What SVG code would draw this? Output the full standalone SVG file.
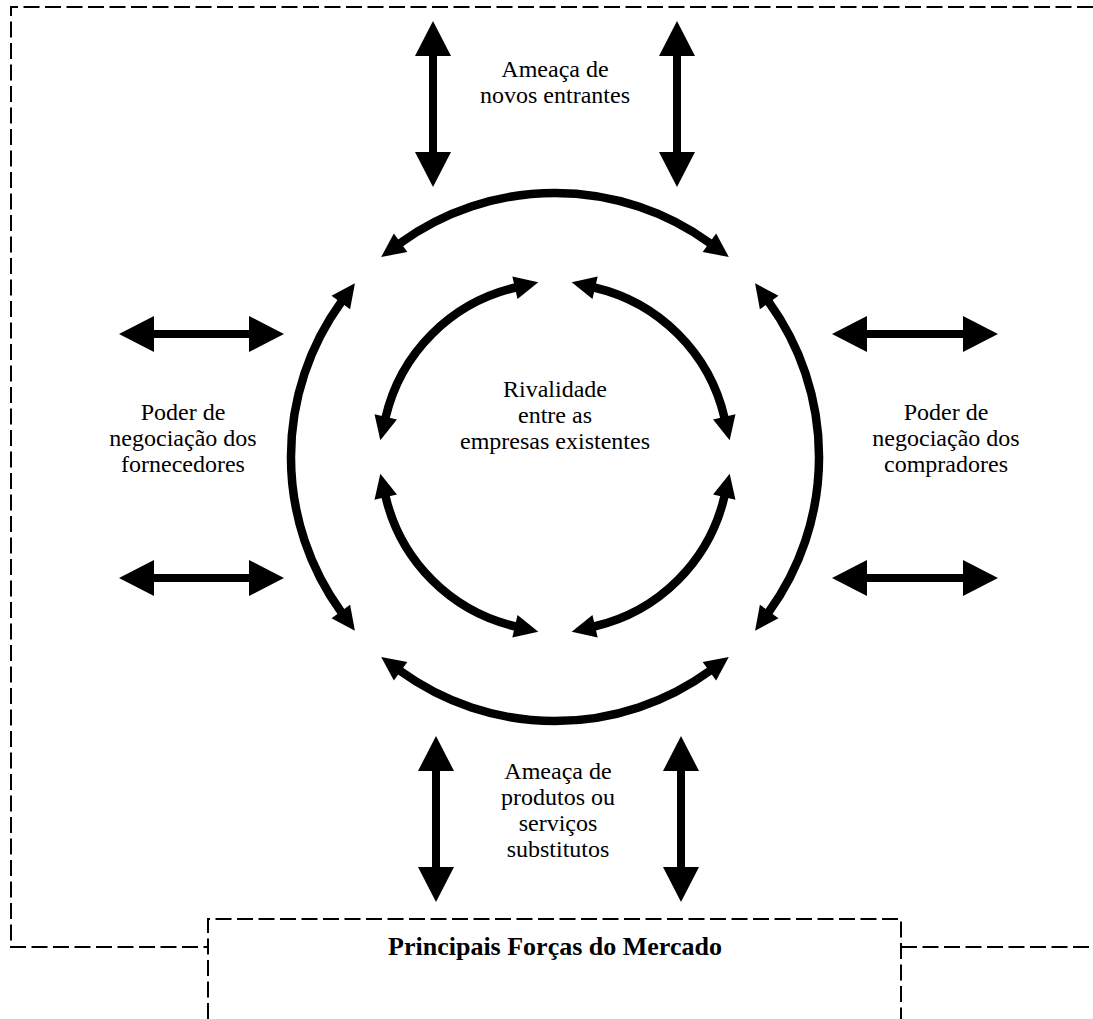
<svg xmlns="http://www.w3.org/2000/svg" width="1093" height="1019" viewBox="0 0 1093 1019">
  <style>
    .lbl { font-family: "Liberation Serif", "Times New Roman", serif; font-size: 24px; fill: #000; text-anchor: middle; }
    .title { font-family: "Liberation Serif", "Times New Roman", serif; font-size: 26px; font-weight: bold; fill: #000; text-anchor: middle; }
    .dash { fill: none; stroke: #000; stroke-width: 2; stroke-dasharray: 16 5.5; }
    .arc { fill: none; stroke: #000; stroke-width: 8.5; marker-start: url(#headSmall); marker-end: url(#headSmall); }
    .bar { fill: none; stroke: #000; stroke-width: 8; marker-start: url(#headBig); marker-end: url(#headBig); }
  </style>
  <defs>
    <!-- curved-arrow head: tip beyond the arc end, along its tangent -->
    <marker id="headSmall" markerUnits="userSpaceOnUse" markerWidth="25" markerHeight="23" refX="1" refY="11.5" orient="auto-start-reverse" overflow="visible">
      <path d="M0,0 L24,11.5 L0,23 z" fill="#000"/>
    </marker>
    <!-- straight double-arrow head -->
    <marker id="headBig" markerUnits="userSpaceOnUse" markerWidth="36" markerHeight="36" refX="1" refY="18" orient="auto-start-reverse" overflow="visible">
      <path d="M0,0 L35,18 L0,36 z" fill="#000"/>
    </marker>
  </defs>

  <rect width="1093" height="1019" fill="#fff"/>

  <!-- market boundary and caption box -->
  <g id="fronteira">
    <path class="dash" d="M1093,7 H11 V947 H208"/>
    <path class="dash" d="M901,947 H1093"/>
  </g>
  <g id="forcas-mercado">
    <path class="dash" d="M208,1019 V919 H901 V1019"/>
    <text class="title" x="555" y="955">Principais Forças do Mercado</text>
  </g>

  <!-- the five forces -->
  <g id="novos-entrantes">
    <text class="lbl" x="555" y="77">Ameaça de</text>
    <text class="lbl" x="555" y="103">novos entrantes</text>
  </g>
  <g id="fornecedores">
    <text class="lbl" x="183" y="420">Poder de</text>
    <text class="lbl" x="183" y="446">negociação dos</text>
    <text class="lbl" x="183" y="472">fornecedores</text>
  </g>
  <g id="rivalidade">
    <text class="lbl" x="555" y="397">Rivalidade</text>
    <text class="lbl" x="555" y="423">entre as</text>
    <text class="lbl" x="555" y="449">empresas existentes</text>
  </g>
  <g id="compradores">
    <text class="lbl" x="946" y="420">Poder de</text>
    <text class="lbl" x="946" y="446">negociação dos</text>
    <text class="lbl" x="946" y="472">compradores</text>
  </g>
  <g id="substitutos">
    <text class="lbl" x="558" y="779">Ameaça de</text>
    <text class="lbl" x="558" y="805">produtos ou</text>
    <text class="lbl" x="558" y="831">serviços</text>
    <text class="lbl" x="558" y="857">substitutos</text>
  </g>

  <!-- connectors -->
  <g id="conectores">
    <!-- straight double arrows -->
    <path class="bar" d="M433,55 V153"/>
    <path class="bar" d="M677,55 V153"/>
    <path class="bar" d="M436,770 V868"/>
    <path class="bar" d="M681,770 V868"/>
    <path class="bar" d="M153,334 H250"/>
    <path class="bar" d="M153,578 H250"/>
    <path class="bar" d="M866,334 H964"/>
    <path class="bar" d="M866,578 H964"/>

    <!-- outer ring, centre (555,457), r 264 -->
    <path class="arc" d="M399.8,243.4 A264,264 0 0,1 710.2,243.4"/>
    <path class="arc" d="M768.6,301.8 A264,264 0 0,1 768.6,612.2"/>
    <path class="arc" d="M710.2,670.6 A264,264 0 0,1 399.8,670.6"/>
    <path class="arc" d="M341.4,612.2 A264,264 0 0,1 341.4,301.8"/>

    <!-- inner ring, centre (555,457), r 174 -->
    <path class="arc" d="M385.5,417.9 A174,174 0 0,1 515.9,287.5"/>
    <path class="arc" d="M594.1,287.5 A174,174 0 0,1 724.5,417.9"/>
    <path class="arc" d="M724.5,496.1 A174,174 0 0,1 594.1,626.5"/>
    <path class="arc" d="M515.9,626.5 A174,174 0 0,1 385.5,496.1"/>
  </g>
</svg>
